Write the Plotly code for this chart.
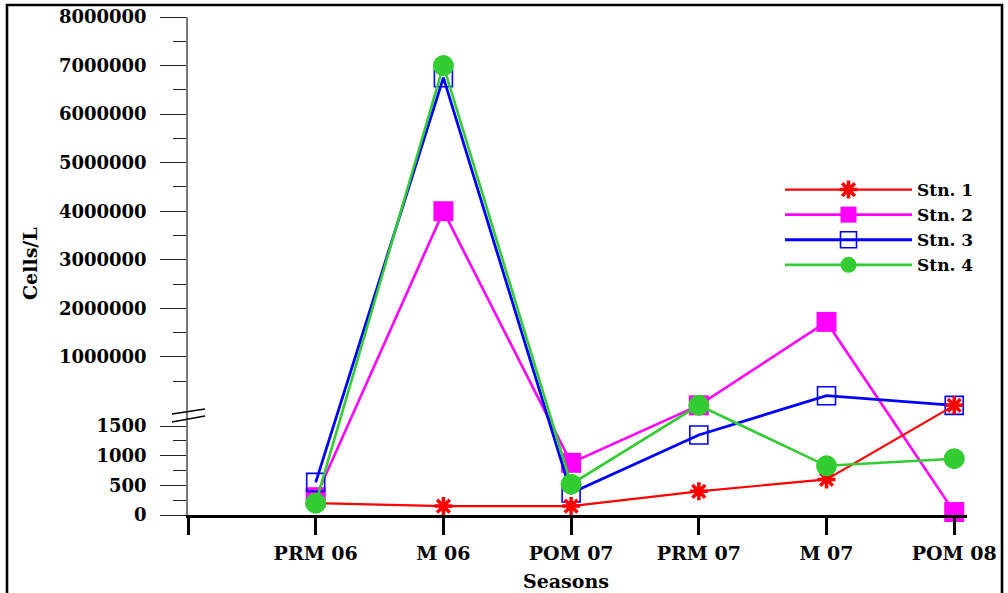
import plotly.graph_objects as go

# Seasons on the x axis (position 0 is the bare axis origin)
seasons = ["PRM 06", "M 06", "POM 07", "PRM 07", "M 07", "POM 08"]
season_pos = [1, 2, 3, 4, 5, 6]

# Cell counts (cells/L) for each station
stn1 = [200, 150, 150, 400, 600, 1850]
stn2 = [300, 4000000, 880, 1850, 1720000, 50]
stn3 = [550, 6750000, 370, 1350, 200000, 1850]
stn4 = [200, 7000000, 520, 1850, 830, 950]

# Axis tick values (cells/L)
low_major = [0, 500, 1000, 1500]
low_minor = [250, 750, 1250]
high_major = [1000000, 2000000, 3000000, 4000000, 5000000, 6000000, 7000000, 8000000]
high_minor = [500000, 1500000, 2500000, 3500000, 4500000, 5500000, 6500000, 7500000]

# Broken y axis: linear up to BREAK, then a compressed linear segment
BREAK = 1850
UPPER_RATIO = 8.19e-4
Y_TOP = 8000000


def to_axis(v):
    return v if v <= BREAK else BREAK + (v - BREAK) * UPPER_RATIO


def conv(values):
    return [to_axis(v) for v in values]


# Page geometry
W, H = 1008, 593
ML, MR, MT, MB = 188, 41, 17, 78
PW = W - ML - MR
PH = H - MT - MB


def px_x(px):
    return (px - ML) / PW


def px_y(py):
    return (H - MB - py) / PH


FONT = "DejaVu Serif"

styles = {
    "Stn. 1": dict(data=stn1, color="#FF0000", width=2.2,
                   marker=dict(symbol="asterisk-open", size=15,
                               line=dict(color="#FF0000", width=3.5)), rank=1),
    "Stn. 2": dict(data=stn2, color="#FF00FF", width=2.6,
                   marker=dict(symbol="square", size=20, color="#FF00FF"), rank=2),
    "Stn. 3": dict(data=stn3, color="#0000FF", width=2.8,
                   marker=dict(symbol="square-open", size=18, color="#0000FF",
                               line=dict(color="#0000FF", width=1.6)), rank=3),
    "Stn. 4": dict(data=stn4, color="#33CC33", width=2.6,
                   marker=dict(symbol="circle", size=21, color="#33CC33"), rank=4),
}

fig = go.Figure()
for name in ["Stn. 2", "Stn. 3", "Stn. 1", "Stn. 4"]:
    s = styles[name]
    fig.add_trace(go.Scatter(
        x=season_pos, y=conv(s["data"]), name=name, mode="lines+markers",
        line=dict(color=s["color"], width=s["width"]),
        marker=s["marker"], legendrank=s["rank"], cliponaxis=False,
        customdata=s["data"],
        hovertemplate="%{customdata:,}<extra>" + name + "</extra>",
    ))

major_vals = low_major + high_major
fig.update_yaxes(
    range=[0, to_axis(Y_TOP)],
    tickmode="array", tickvals=conv(major_vals), ticktext=[str(v) for v in major_vals],
    ticks="outside", ticklen=26, tickwidth=1.3, tickcolor="#222",
    ticklabelstandoff=10,
    minor=dict(tickmode="array", tickvals=conv(low_minor + high_minor),
               ticks="outside", ticklen=13, tickwidth=1.3, tickcolor="#222"),
    showline=True, linecolor="#777", linewidth=1.6,
    showgrid=False, zeroline=False,
    tickfont=dict(family=FONT, size=18, color="black", weight="bold"),
)
fig.update_xaxes(
    range=[0, 6.1],
    tickmode="array", tickvals=[0] + season_pos, ticktext=[""] + seasons,
    ticks="outside", ticklen=17, tickwidth=3, tickcolor="black",
    ticklabelstandoff=2,
    showline=True, linecolor="black", linewidth=3,
    showgrid=False, zeroline=False,
    tickfont=dict(family=FONT, size=19, color="black", weight="bold"),
)

shapes = [
    # outer frame
    dict(type="rect", xref="paper", yref="paper",
         x0=px_x(7), x1=px_x(1002), y0=px_y(600), y1=px_y(5),
         line=dict(color="black", width=2.6)),
    # axis break marks
    dict(type="line", xref="paper", yref="paper",
         x0=px_x(172), y0=px_y(414), x1=px_x(205), y1=px_y(409),
         line=dict(color="black", width=1.3)),
    dict(type="line", xref="paper", yref="paper",
         x0=px_x(172), y0=px_y(422), x1=px_x(205), y1=px_y(416),
         line=dict(color="black", width=1.3)),
]

annotations = [
    dict(text="Cells/L", xref="paper", yref="paper", x=px_x(30), y=px_y(264),
         xanchor="center", yanchor="middle",
         textangle=-90, showarrow=False,
         font=dict(family=FONT, size=19, color="black", weight="bold")),
    dict(text="Seasons", xref="paper", yref="paper", x=px_x(566), y=px_y(581),
         xanchor="center", yanchor="middle",
         showarrow=False,
         font=dict(family=FONT, size=19, color="black", weight="bold")),
]

fig.update_layout(
    width=W, height=H,
    margin=dict(l=ML, r=MR, t=MT, b=MB, autoexpand=False),
    paper_bgcolor="white", plot_bgcolor="white",
    showlegend=True,
    legend=dict(x=px_x(780), y=px_y(172), xanchor="left", yanchor="top",
                bgcolor="rgba(0,0,0,0)", itemwidth=127,
                font=dict(family=FONT, size=17, color="black", weight="bold")),
    shapes=shapes, annotations=annotations,
)

fig.write_html("out.html")
